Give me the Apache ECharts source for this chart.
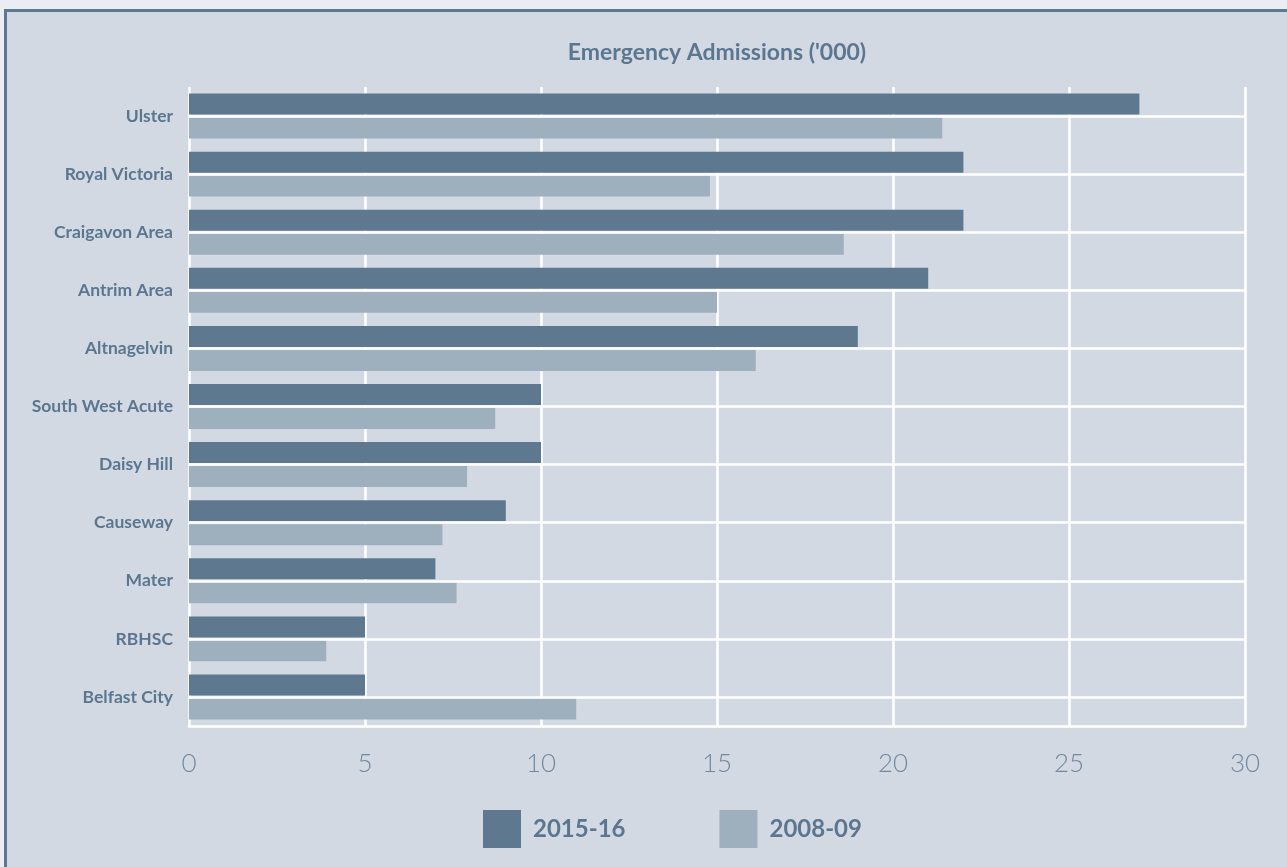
<!DOCTYPE html>
<html><head><meta charset="utf-8">
<script src="https://cdn.jsdelivr.net/npm/echarts@6/dist/echarts.min.js"></script>
<style>
html,body{margin:0;padding:0;background:#eaeef2;overflow:hidden;width:1287px;height:867px}
#frame{position:absolute;left:4px;top:9px;width:1400px;height:1000px;background:#d3d9e2;border-left:3px solid #5e798f;border-top:3px solid #5e798f}
#chart{position:absolute;left:0;top:0;width:1287px;height:867px}
</style></head><body><div id="frame"></div><div id="chart"></div>
<script>
const categories = ['Ulster','Royal Victoria','Craigavon Area','Antrim Area','Altnagelvin','South West Acute','Daisy Hill','Causeway','Mater','RBHSC','Belfast City'];
const values2015 = [27,22,22,21,19,10,10,9,7,5,5];
const values2008 = [21.4,14.8,18.6,15.0,16.1,8.7,7.9,7.2,7.6,3.9,11.0];
const seriesNames = ['2015-16','2008-09'];
const xMin = 0, xMax = 30, xInterval = 5;
const titleText = "Emergency Admissions ('000)";

const TXT = '#5b7690';
const chart = echarts.init(document.getElementById('chart'), null, {renderer:'canvas'});
chart.setOption({
  backgroundColor: 'transparent',
  animation: false,
  title: {
    text: titleText, left: 717, top: 41, textAlign: 'center', padding: 0,
    textStyle: {fontFamily: 'Lato', fontWeight: 'bold', fontSize: 23, color: TXT}
  },
  legend: {
    data: seriesNames, left: 483, top: 810, itemWidth: 38, itemHeight: 38, itemGap: 94,
    icon: 'rect', padding: 0,
    textStyle: {fontFamily: 'Lato', fontWeight: 'bold', fontSize: 24, color: TXT, padding: [0,0,0,7]}
  },
  grid: {left: 189, right: 42, top: 87, bottom: 141, containLabel: false},
  xAxis: {
    type: 'value', min: xMin, max: xMax, interval: xInterval,
    axisLine: {show: true, lineStyle: {color: '#ffffff', width: 2.5}},
    axisTick: {show: false},
    splitLine: {show: true, lineStyle: {color: '#ffffff', width: 2.5}},
    axisLabel: {fontFamily: 'Lato', fontWeight: 300, fontSize: 26, color: '#7089a0', margin: 25}
  },
  yAxis: {
    type: 'category', data: categories, inverse: true,
    axisLine: {show: false}, axisTick: {show: false}, splitLine: {show: false},
    axisLabel: {fontFamily: 'Lato', fontWeight: 'bold', fontSize: 17.5, color: TXT, margin: 16}
  },
  series: [
    {
      name: seriesNames[0], type: 'bar', data: values2015, barWidth: 21, barGap: '14%',
      itemStyle: {color: '#5e798f'}
    },
    {
      name: seriesNames[1], type: 'bar', data: values2008, barWidth: 21, barGap: '14%',
      itemStyle: {color: '#9eafbe'}
    },
    {
      name: 'gridlines', type: 'line', data: categories.map(() => '-'), symbol: 'none',
      z: 3,
      markLine: {
        silent: true, symbol: ['none','none'], label: {show: false},
        lineStyle: {color: '#ffffff', type: 'solid', width: 2.5},
        data: categories.map(c => ({yAxis: c}))
      }
    }
  ]
});
</script></body></html>
